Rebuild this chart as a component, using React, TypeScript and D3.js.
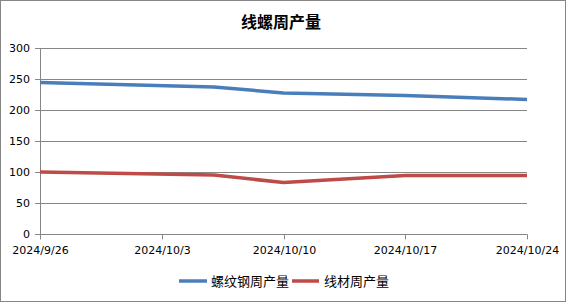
import React from "react";
import * as d3 from "d3";

const dates = ["2024-09-26", "2024-10-06", "2024-10-10", "2024-10-17", "2024-10-24"];
const rebar = [245, 237.5, 228, 224, 217.5];
const wire = [100.5, 95.5, 83.5, 95, 95];
const yTicks = [0, 50, 100, 150, 200, 250, 300];
const xTickDates = ["2024-09-26", "2024-10-03", "2024-10-10", "2024-10-17", "2024-10-24"];
const seriesNames = ["螺纹钢周产量", "线材周产量"];
const title = "线螺周产量";

const W = 566, H = 302;
const m = { left: 40, right: 527, top: 48.3, bottom: 234.3 };
const colors = ["#4A7EBB", "#BE4B48"];
const grid = "#868686";

const parse = (s: string) => new Date(s + "T00:00:00");

export default function App() {
  const x = d3.scaleTime().domain([parse(dates[0]), parse(dates[dates.length - 1])]).range([m.left, m.right]);
  const y = d3.scaleLinear().domain([0, 300]).range([m.bottom, m.top]);
  const fmt = (d: Date) => `${d.getFullYear()}/${d.getMonth() + 1}/${d.getDate()}`;
  const line = d3.line<number>().x((_, i) => x(parse(dates[i]))).y((v) => y(v));
  const series = [rebar, wire];
  const font = "'DejaVu Sans', sans-serif";
  const cjk = "'Noto Sans CJK SC', sans-serif";
  return (
    <svg width={W} height={H} style={{ position: "absolute", left: 0, top: 0, background: "#fff" }}>
      <rect x={0.5} y={0.5} width={W - 1} height={H - 1} fill="#fff" stroke={grid} />
      <text x={281} y={28} textAnchor="middle" fontFamily={cjk} fontWeight="bold" fontSize={16} fill="#000">{title}</text>
      {yTicks.map((t) => (
        <g key={t}>
          <line x1={35} x2={m.right} y1={Math.round(y(t)) + 0.5} y2={Math.round(y(t)) + 0.5} stroke={grid} />
          <text x={30} y={y(t)} dy="0.35em" textAnchor="end" fontFamily={font} fontSize={11} fill="#000">{t}</text>
        </g>
      ))}
      <line x1={m.left + 0.5} x2={m.left + 0.5} y1={m.top} y2={m.bottom + 5} stroke={grid} />
      {xTickDates.map((s) => {
        const xx = Math.round(x(parse(s))) + 0.5;
        return (
          <g key={s}>
            <line x1={xx} x2={xx} y1={m.bottom} y2={m.bottom + 5} stroke={grid} />
            <text x={xx} y={254} textAnchor="middle" fontFamily={font} fontSize={11} fill="#000">{fmt(parse(s))}</text>
          </g>
        );
      })}
      {series.map((s, i) => (
        <path key={i} d={line(s) || ""} fill="none" stroke={colors[i]} strokeWidth={3.5} strokeLinejoin="round" />
      ))}
      <g>
        <line x1={179} x2={207} y1={281} y2={281} stroke={colors[0]} strokeWidth={3.5} />
        <text x={211} y={281} dy="0.35em" fontFamily={cjk} fontSize={13} fill="#000">{seriesNames[0]}</text>
        <line x1={292} x2={319} y1={281} y2={281} stroke={colors[1]} strokeWidth={3.5} />
        <text x={324} y={281} dy="0.35em" fontFamily={cjk} fontSize={13} fill="#000">{seriesNames[1]}</text>
      </g>
    </svg>
  );
}
